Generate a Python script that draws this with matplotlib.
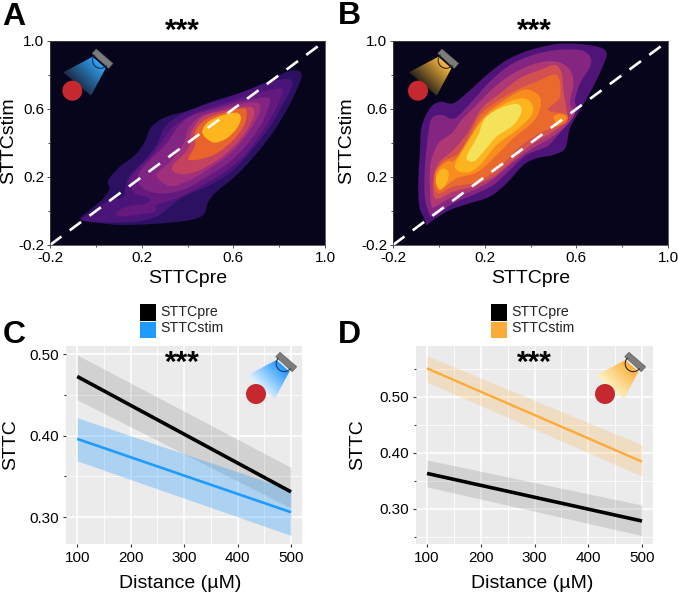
#!/usr/bin/env python3
"""STTC density maps (pre vs stim) and STTC vs distance fits."""

import numpy as np
import matplotlib
matplotlib.use('Agg')
import matplotlib.pyplot as plt
from matplotlib.colors import LinearSegmentedColormap
from matplotlib.patches import Circle, PathPatch, Polygon, Rectangle
from matplotlib.path import Path
from matplotlib.ticker import FixedLocator

plt.rcParams.update({
    'font.family': ['Liberation Sans', 'DejaVu Sans'],
    'font.size': 11,
})

# ── Panel A: density contour outlines, outermost first ──
a1_x = [-0.069, -0.026, 0.033, 0.059, 0.054, 0.105, 0.171, 0.214, 0.243, 0.309, 0.411, 0.527, 0.644, 0.760, 0.833,
        0.884, 0.898, 0.876, 0.833, 0.775, 0.702, 0.615, 0.527, 0.491, 0.469, 0.396, 0.251, 0.105, 0.003]
a1_y = [-0.049, 0.006, 0.075, 0.133, 0.182, 0.261, 0.329, 0.408, 0.496, 0.555, 0.594, 0.653, 0.702, 0.770, 0.819,
        0.825, 0.790, 0.712, 0.594, 0.467, 0.339, 0.212, 0.114, 0.055, -0.023, -0.057, -0.076, -0.082, -0.068]
a2_x = [-0.062, -0.011, 0.047, 0.120, 0.127, 0.149, 0.214, 0.268, 0.302, 0.367, 0.469, 0.585, 0.702, 0.789,
        0.847, 0.855, 0.818, 0.760, 0.687, 0.600, 0.498, 0.382, 0.324, 0.265, 0.178, 0.062, -0.026]
a2_y = [-0.049, 0.002, 0.055, 0.084, 0.133, 0.212, 0.300, 0.398, 0.496, 0.565, 0.623, 0.672, 0.731, 0.770,
        0.774, 0.731, 0.633, 0.496, 0.369, 0.241, 0.153, 0.084, 0.026, -0.033, -0.063, -0.068, -0.063]
a3_x = [0.091, 0.134, 0.222, 0.229, 0.171, 0.146, 0.178, 0.251, 0.324, 0.389, 0.469, 0.585, 0.702, 0.807, 0.811,
        0.775, 0.716, 0.644, 0.542, 0.440, 0.353, 0.265, 0.258, 0.178, 0.105]
a3_y = [-0.010, 0.026, 0.045, 0.080, 0.104, 0.173, 0.241, 0.339, 0.476, 0.545, 0.594, 0.643, 0.692, 0.721, 0.682,
        0.574, 0.447, 0.320, 0.212, 0.133, 0.075, 0.035, -0.004, -0.023, -0.033]
a4_x = [0.193, 0.185, 0.236, 0.309, 0.353, 0.411, 0.498, 0.600, 0.702, 0.756, 0.753, 0.716, 0.658, 0.585, 0.498,
        0.396, 0.309, 0.236]
a4_y = [0.153, 0.212, 0.300, 0.398, 0.486, 0.555, 0.594, 0.633, 0.663, 0.663, 0.604, 0.496, 0.388, 0.290, 0.212,
        0.133, 0.104, 0.114]
a5_x = [0.265, 0.324, 0.382, 0.404, 0.454, 0.542, 0.644, 0.709, 0.716, 0.687, 0.629, 0.571, 0.498, 0.411, 0.324]
a5_y = [0.212, 0.290, 0.398, 0.486, 0.555, 0.594, 0.633, 0.633, 0.584, 0.506, 0.398, 0.320, 0.251, 0.182, 0.147]
a6_x = [0.338, 0.404, 0.418, 0.469, 0.571, 0.665, 0.692, 0.673, 0.622, 0.542, 0.454, 0.382, 0.341]
a6_y = [0.271, 0.369, 0.467, 0.555, 0.594, 0.614, 0.584, 0.506, 0.408, 0.310, 0.241, 0.216, 0.231]
a7_x = [0.404, 0.433, 0.433, 0.476, 0.556, 0.644, 0.658, 0.644, 0.600, 0.527, 0.454, 0.411]
a7_y = [0.310, 0.388, 0.467, 0.535, 0.578, 0.604, 0.565, 0.496, 0.418, 0.339, 0.304, 0.300]
a8_x = [0.465, 0.491, 0.556, 0.615, 0.633, 0.615, 0.571, 0.520, 0.491, 0.469]
a8_y = [0.476, 0.525, 0.565, 0.578, 0.545, 0.486, 0.427, 0.402, 0.418, 0.447]

# ── Panel B: density contour outlines, outermost first ──
b1_x = [-0.061, -0.085, -0.090, -0.082, -0.075, -0.039, 0.005, 0.063, 0.129, 0.209, 0.296, 0.398, 0.514, 0.616, 0.703,
        0.732, 0.718, 0.674, 0.616, 0.572, 0.551, 0.500, 0.427, 0.369, 0.296, 0.223, 0.136, 0.049, -0.024, -0.053]
b1_y = [-0.052, 0.026, 0.163, 0.359, 0.496, 0.604, 0.643, 0.634, 0.702, 0.800, 0.888, 0.947, 0.982, 0.982, 0.963,
        0.928, 0.859, 0.732, 0.594, 0.487, 0.369, 0.330, 0.310, 0.271, 0.163, 0.085, 0.046, 0.006, -0.052, -0.082]
b2_x = [-0.039, -0.061, -0.061, -0.046, -0.031, 0.012, 0.070, 0.150, 0.223, 0.311, 0.412, 0.514, 0.616, 0.660,
        0.660, 0.616, 0.594, 0.601, 0.558, 0.514, 0.471, 0.383, 0.311, 0.238, 0.150, 0.063, -0.010]
b2_y = [-0.023, 0.085, 0.261, 0.457, 0.545, 0.565, 0.545, 0.653, 0.761, 0.859, 0.918, 0.947, 0.947, 0.908,
        0.849, 0.751, 0.653, 0.594, 0.506, 0.438, 0.379, 0.330, 0.242, 0.153, 0.095, 0.046, -0.023]
b3_x = [-0.031, -0.039, -0.036, -0.002, 0.056, 0.100, 0.165, 0.238, 0.325, 0.427, 0.514, 0.572, 0.587, 0.572, 0.594,
        0.551, 0.485, 0.398, 0.311, 0.223, 0.136, 0.049, -0.002]
b3_y = [0.026, 0.144, 0.281, 0.398, 0.457, 0.536, 0.624, 0.722, 0.810, 0.869, 0.879, 0.830, 0.751, 0.634, 0.575,
        0.496, 0.428, 0.359, 0.271, 0.173, 0.114, 0.075, 0.036]
b4_x = [-0.021, -0.024, -0.002, 0.063, 0.129, 0.187, 0.267, 0.354, 0.441, 0.507, 0.536, 0.543, 0.558, 0.558, 0.500,
        0.412, 0.325, 0.238, 0.150, 0.063, 0.005]
b4_y = [0.085, 0.183, 0.281, 0.359, 0.467, 0.604, 0.692, 0.781, 0.830, 0.859, 0.810, 0.712, 0.594, 0.536, 0.467,
        0.398, 0.300, 0.202, 0.144, 0.114, 0.075]
b5_x = [-0.017, -0.017, 0.020, 0.085, 0.129, 0.180, 0.252, 0.340, 0.427, 0.514, 0.529, 0.478, 0.492, 0.558, 0.551,
        0.471, 0.427, 0.354, 0.267, 0.172, 0.063, 0.005]
b5_y = [0.134, 0.222, 0.291, 0.340, 0.438, 0.565, 0.643, 0.712, 0.761, 0.800, 0.673, 0.604, 0.585, 0.565, 0.516,
        0.477, 0.447, 0.379, 0.261, 0.173, 0.144, 0.104]
b6_x = [-0.010, -0.010, 0.034, 0.070, 0.129, 0.187, 0.267, 0.369, 0.434, 0.444, 0.412, 0.325, 0.260, 0.172, 0.078,
        0.027, 0.005]
b6_y = [0.163, 0.232, 0.291, 0.300, 0.418, 0.545, 0.634, 0.712, 0.683, 0.614, 0.526, 0.428, 0.340, 0.232, 0.193,
        0.144, 0.124]
b6_lobe_x = [0.507, 0.500, 0.529, 0.558, 0.536, 0.514]
b6_lobe_y = [0.526, 0.555, 0.571, 0.551, 0.516, 0.500]
b7_left_x = [-0.013, 0.012, 0.041, 0.037, 0.005]
b7_left_y = [0.183, 0.247, 0.232, 0.173, 0.124]
b7_x = [0.070, 0.114, 0.180, 0.252, 0.354, 0.405, 0.405, 0.340, 0.252, 0.180, 0.121]
b7_y = [0.261, 0.379, 0.516, 0.604, 0.663, 0.634, 0.565, 0.477, 0.389, 0.271, 0.226]
b8_x = [0.124, 0.172, 0.201, 0.267, 0.340, 0.361, 0.325, 0.252, 0.201, 0.158, 0.129]
b8_y = [0.330, 0.447, 0.545, 0.604, 0.630, 0.585, 0.506, 0.438, 0.359, 0.296, 0.296]

a_colors = ['#2c1162', '#4a1478', '#65197f', '#812482', '#a0307c', '#c4425f', '#e8642c', '#fdb61e']
b_colors = ['#4f1478', '#842681', '#ad3874', '#d2504f', '#ea6a2d', '#f88d1e', '#fdb41f', '#f4e25a']

# ── Panels C and D: linear fits with confidence ribbons ──
distance = [100, 500]
c_pre = [0.4726, 0.331]
c_pre_low = [0.444, 0.311]
c_pre_high = [0.499, 0.361]
c_stim = [0.396, 0.306]
c_stim_low = [0.369, 0.2775]
c_stim_high = [0.422, 0.3335]
d_pre = [0.363, 0.278]
d_pre_low = [0.339, 0.252]
d_pre_high = [0.387, 0.3065]
d_stim = [0.5506, 0.384]
d_stim_low = [0.526, 0.358]
d_stim_high = [0.573, 0.414]

BLUE = '#1f9bff'
ORANGE = '#fcab38'
W, H = 678, 594

fig = plt.figure(figsize=(W / 100, H / 100), dpi=100, facecolor='white')


def add_axes_px(left, top, right, bottom):
    return fig.add_axes([left / W, 1 - bottom / H, (right - left) / W, (bottom - top) / H])


def closed_curve(xs, ys, color):
    # closed Catmull-Rom through the traced outline
    pts = np.column_stack([xs, ys])
    n = len(pts)
    verts = [pts[0]]
    codes = [Path.MOVETO]
    for i in range(n):
        p0, p1, p2, p3 = pts[i - 1], pts[i], pts[(i + 1) % n], pts[(i + 2) % n]
        verts += [p1 + (p2 - p0) / 6, p2 - (p3 - p1) / 6, p2]
        codes += [Path.CURVE4] * 3
    return PathPatch(Path(verts, codes), facecolor=color, edgecolor='none')


def density_panel(ax, shapes, ylabel_x):
    ax.set_facecolor('#07051b')
    for xs, ys, color in shapes:
        ax.add_patch(closed_curve(xs, ys, color))
    ax.plot([-0.2, 1.0], [-0.2, 1.0], color='white', lw=1.9, dashes=(5.4, 3.9), clip_on=True)
    ax.set_xlim(-0.2, 1.0)
    ax.set_ylim(-0.2, 1.0)
    ax.set_xticks([-0.2, 0.2, 0.6, 1.0], ['-0.2', '0.2', '0.6', '1.0'])
    ax.set_yticks([-0.2, 0.2, 0.6, 1.0], ['-0.2', '0.2', '0.6', '1.0'])
    ax.xaxis.set_minor_locator(FixedLocator([0.0, 0.4, 0.8]))
    ax.yaxis.set_minor_locator(FixedLocator([0.0, 0.4, 0.8]))
    ax.tick_params(which='major', length=2.5, width=0.6, pad=1.5, labelsize=11, color='#333333')
    ax.tick_params(which='minor', length=1.5, width=0.6, color='#333333')
    for s in ax.spines.values():
        s.set_linewidth(0.6)
        s.set_color('#444444')
    ax.set_xlabel('STTCpre', fontsize=14, va='center')
    ax.set_ylabel('STTCstim', fontsize=14, va='center')
    ax.xaxis.set_label_coords(0.5, -0.162)
    ax.yaxis.set_label_coords(ylabel_x, 0.51)


def fit_panel(ax, stim_color, pre, pre_low, pre_high, stim, stim_low, stim_high, stim_alpha, stim_lw,
              yticks, yminor, ylim, xlim, ylabel_x, xlabel_x):
    ax.set_facecolor('#ebebeb')
    ax.set_axisbelow(True)
    ax.fill_between(distance, pre_low, pre_high, color='black', alpha=0.11, lw=0)
    ax.fill_between(distance, stim_low, stim_high, color=stim_color, alpha=stim_alpha, lw=0)
    ax.plot(distance, pre, color='black', lw=2.6, solid_capstyle='butt')
    ax.plot(distance, stim, color=stim_color, lw=stim_lw, solid_capstyle='butt')
    ax.set_xlim(*xlim)
    ax.set_ylim(*ylim)
    ax.set_xticks([100, 200, 300, 400, 500])
    ax.set_yticks(yticks, [f'{v:.2f}' for v in yticks])
    ax.xaxis.set_minor_locator(FixedLocator([150, 250, 350, 450]))
    ax.yaxis.set_minor_locator(FixedLocator(yminor))
    ax.grid(which='major', color='white', lw=1.2)
    ax.grid(which='minor', color='white', lw=0.6)
    ax.tick_params(which='major', length=2.5, width=0.8, pad=2.5, labelsize=11, color='#333333')
    ax.tick_params(axis='x', which='minor', length=0)
    ax.tick_params(axis='y', which='minor', length=1.5, width=0.8, color='#333333')
    for s in ax.spines.values():
        s.set_visible(False)
    ax.set_xlabel('Distance (µM)', fontsize=14, va='center')
    ax.set_ylabel('STTC', fontsize=14, va='center')
    ax.xaxis.set_label_coords(xlabel_x, -0.202)
    ax.yaxis.set_label_coords(ylabel_x, 0.5)


# ── Density maps ──
ax_a = add_axes_px(50, 41, 325, 245)
a_outlines = [(a1_x, a1_y), (a2_x, a2_y), (a3_x, a3_y), (a4_x, a4_y), (a5_x, a5_y), (a6_x, a6_y), (a7_x, a7_y),
              (a8_x, a8_y)]
density_panel(ax_a, [(x, y, c) for (x, y), c in zip(a_outlines, a_colors)], -0.151)

ax_b = add_axes_px(393, 41, 668, 245)
b_shapes = [(b1_x, b1_y, b_colors[0]), (b2_x, b2_y, b_colors[1]), (b3_x, b3_y, b_colors[2]),
            (b4_x, b4_y, b_colors[3]), (b5_x, b5_y, b_colors[4]), (b6_x, b6_y, b_colors[5]),
            (b6_lobe_x, b6_lobe_y, b_colors[5]), (b7_left_x, b7_left_y, b_colors[6]), (b7_x, b7_y, b_colors[6]),
            (b8_x, b8_y, b_colors[7])]
density_panel(ax_b, b_shapes, -0.168)

# ── Fit panels ──
ax_c = add_axes_px(66, 346, 302, 544)
fit_panel(ax_c, BLUE, c_pre, c_pre_low, c_pre_high, c_stim, c_stim_low, c_stim_high, 0.3, 1.9,
          [0.30, 0.40, 0.50], [0.35, 0.45], (0.267, 0.51), (79, 520.6), -0.233, 0.483)

ax_d = add_axes_px(416, 346, 653, 544)
fit_panel(ax_d, ORANGE, d_pre, d_pre_low, d_pre_high, d_stim, d_stim_low, d_stim_high, 0.22, 1.7,
          [0.30, 0.40, 0.50], [0.25, 0.35, 0.45, 0.55], (0.237, 0.5905), (79.5, 520.5), -0.245, 0.489)

# ── Overlay in pixel coordinates: letters, stars, legends, lamp icons ──
ov = fig.add_axes([0, 0, 1, 1], facecolor='none')
ov.axis('off')


def draw_lamp(cx, cy, near, far, arc_color):
    corners = [(cx - 9, cy - 18.4), (cx + 20.4, cy - 34), (cx + 33.4, cy - 22.4), (cx + 18.7, cy + 5)]
    beam = Polygon(corners, closed=True, facecolor='none', edgecolor='none')
    ov.add_patch(beam)
    gx, gy = np.meshgrid(np.linspace(cx - 12, cx + 36, 60), np.linspace(cy - 38, cy + 8, 60))
    x0, y0, dx, dy = cx + 26.9, cy - 28.2, -22.1, 21.5
    t = np.clip(((gx - x0) * dx + (gy - y0) * dy) / (dx ** 2 + dy ** 2), 0, 1)
    cmap = LinearSegmentedColormap.from_list('beam', [near, far])
    img = ov.imshow(t, extent=(cx - 12, cx + 36, cy + 8, cy - 38), origin='upper', cmap=cmap, aspect='auto',
                    vmin=0, vmax=1, interpolation='bilinear')
    img.set_clip_path(beam)
    # bulb outline below the lamp housing
    ang = np.radians(np.linspace(41, 221, 30))
    ov.plot(cx + 28.2 + 8 * np.cos(ang), cy - 30.4 + 8 * np.sin(ang), color=arc_color, lw=0.8)
    ov.add_patch(Polygon([(cx + 19.7, cy - 37.3), (cx + 24, cy - 41.7), (cx + 40.7, cy - 27.3), (cx + 36.3, cy - 22.3)],
                         closed=True, facecolor='#7c7c7c', edgecolor='#555555', lw=0.4))
    ov.add_patch(Circle((cx, cy), 10, facecolor='#c5282e', edgecolor='none'))


draw_lamp(72.3, 90.7, '#2f9ff0', '#1c2f4c', '#14304f')
draw_lamp(418, 90.7, '#f6b73c', '#32291c', '#2a2a2a')
draw_lamp(256, 394, '#1f96ff', '#dcefff', '#1d3a5c')
draw_lamp(605, 394, '#fbb03b', '#fdf0c0', '#2a2a2a')

for label, x, y in [('A', 2, 25), ('B', 338, 24.5), ('C', 3, 343), ('D', 338, 343)]:
    ov.text(x, y, label, fontsize=23, fontweight='bold', ha='left', va='baseline')

for x, y in [(182.7, 31), (534, 31), (182.7, 363), (534, 363)]:
    ov.text(x, y, '***', fontsize=21.5, fontweight='bold', ha='center', va='center')

for x, color in [(140, BLUE), (491, ORANGE)]:
    ov.add_patch(Rectangle((x, 304.3), 16, 16.6, facecolor='black', edgecolor='none'))
    ov.add_patch(Rectangle((x, 321.7), 16, 16, facecolor=color, edgecolor='none'))
    ov.text(x + 20, 312, 'STTCpre', fontsize=10.2, va='center', color='#222222')
    ov.text(x + 20, 328.5, 'STTCstim', fontsize=10.2, va='center', color='#222222')

ov.set_xlim(0, W)
ov.set_ylim(H, 0)

fig.savefig('out.png', dpi=100)
print('  Wrote out.png')
